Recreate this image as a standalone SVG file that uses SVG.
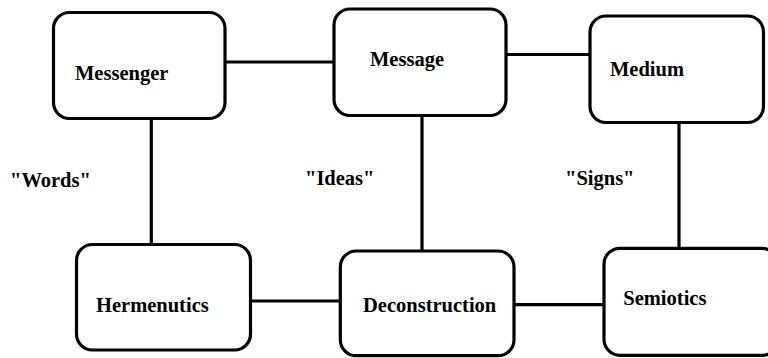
<svg xmlns="http://www.w3.org/2000/svg" width="768" height="358" viewBox="0 0 768 358">
  <style>
    .box { fill: #ffffff; stroke: #000000; stroke-width: 3.2; }
    .lbl { font-weight: bold; font-size: 20.5px; fill: #000000; }
    .link { stroke: #000000; stroke-width: 3.2; fill: none; }
  </style>
  <rect width="768" height="358" fill="#ffffff"/>

  <!-- connectors -->
  <g id="connectors">
    <line class="link" x1="225" y1="62" x2="334" y2="62"/>
    <line class="link" x1="506" y1="54.5" x2="590" y2="54.5"/>
    <line class="link" x1="151.3" y1="118.5" x2="151.3" y2="253.5"/>
    <line class="link" x1="422" y1="115.5" x2="422" y2="251"/>
    <line class="link" x1="679" y1="122.5" x2="679" y2="250"/>
    <line class="link" x1="250.7" y1="301" x2="340.3" y2="301"/>
    <line class="link" x1="514" y1="304.7" x2="604" y2="304.7"/>
  </g>

  <!-- nodes and captions share one serif face -->
  <g font-family="'Liberation Serif', 'DejaVu Serif', serif">
    <g id="messenger">
      <rect class="box" x="53.5" y="12.5" width="171.5" height="106" rx="16"/>
      <text class="lbl" x="75" y="80">Messenger</text>
    </g>
    <g id="message">
      <rect class="box" x="334" y="9" width="172" height="106.5" rx="16"/>
      <text class="lbl" x="370" y="65.5">Message</text>
    </g>
    <g id="medium">
      <rect class="box" x="590" y="16" width="173.5" height="106.5" rx="16"/>
      <text class="lbl" x="610" y="75.5">Medium</text>
    </g>
    <g id="hermenutics">
      <rect class="box" x="76.5" y="244.5" width="174" height="105.5" rx="16"/>
      <text class="lbl" x="96" y="311.7">Hermenutics</text>
    </g>
    <g id="deconstruction">
      <rect class="box" x="340.3" y="251" width="173.7" height="104.7" rx="16"/>
      <text class="lbl" x="363" y="312">Deconstruction</text>
    </g>
    <g id="semiotics">
      <rect class="box" x="604" y="248.3" width="174" height="107" rx="16"/>
      <text class="lbl" x="623.3" y="305">Semiotics</text>
    </g>

    <!-- edge captions -->
    <g id="captions">
      <text class="lbl" x="10" y="186.7">"Words"</text>
      <text class="lbl" x="305" y="185">"Ideas"</text>
      <text class="lbl" x="565" y="185">"Signs"</text>
    </g>
  </g>
</svg>
